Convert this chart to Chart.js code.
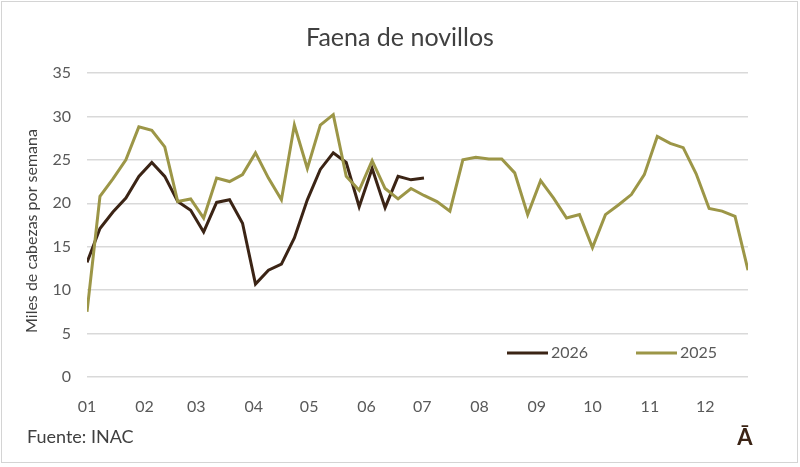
<!DOCTYPE html>
<html>
<head>
<meta charset="utf-8">
<script src="https://cdn.jsdelivr.net/npm/chart.js@4"></script>
<style>
  html, body { margin: 0; padding: 0; background: #fff; }
  #wrap { width: 800px; height: 467px; position: relative; }
</style>
</head>
<body>
<div id="wrap"><canvas id="myChart" width="800" height="467"></canvas></div>
<script>
// weekly slaughter (thousands of head), one value per week
const series2025 = [7.5, 20.8, 22.8, 25.0, 28.8, 28.4, 26.5, 20.2, 20.5, 18.3,
    22.9, 22.5, 23.3, 25.8, 22.9, 20.4, 29.0, 24.0, 29.0, 30.2,
    23.1, 21.5, 24.9, 21.7, 20.5, 21.7, 20.9, 20.2, 19.1, 25.0,
    25.3, 25.1, 25.1, 23.5, 18.7, 22.6, 20.6, 18.3, 18.7, 14.9,
    18.7, 19.8, 21.0, 23.3, 27.7, 26.9, 26.4, 23.4, 19.4, 19.1,
    18.5, 12.3];
const series2026 = [13.2, 17.1, 19.0, 20.6, 23.1, 24.7, 23.1, 20.2, 19.2, 16.7,
    20.1, 20.4, 17.7, 10.7, 12.3, 13.0, 16.0, 20.4, 23.9, 25.8,
    24.7, 19.6, 24.0, 19.5, 23.1, 22.7, 22.9];

// month labels and where each month starts, in weeks
const monthLabels = ['01', '02', '03', '04', '05', '06', '07', '08', '09', '10', '11', '12'];
const monthStartWeeks = [0, 4.43, 8.43, 12.86, 17.14, 21.57, 25.86, 30.29, 34.71, 39, 43.43, 47.71];
const yTicks = [0, 5, 10, 15, 20, 25, 30, 35];

const olive = '#9C9647';
const brown = '#3B2415';
const textGray = '#595959';
const fontFamily = 'Lato, "Open Sans", sans-serif';

const toPoints = (values) => values.map((v, i) => ({ x: i, y: v }));

// title, axis title, legend, source and logo
const extras = {
    id: 'extras',
    afterDraw(chart) {
        const { ctx } = chart;
        ctx.save();
        // frame
        ctx.strokeStyle = '#D4D4D4';
        ctx.lineWidth = 1;
        ctx.strokeRect(1.5, 1.5, 796, 461);

        ctx.fillStyle = '#404040';
        ctx.textAlign = 'center';
        ctx.textBaseline = 'middle';
        ctx.font = `25px ${fontFamily}`;
        ctx.fillText('Faena de novillos', 400, 38);

        ctx.save();
        ctx.translate(32, 231);
        ctx.rotate(-Math.PI / 2);
        ctx.font = `16px ${fontFamily}`;
        ctx.fillText('Miles de cabezas por semana', 0, 0);
        ctx.restore();

        // legend
        const items = [
            { label: '2026', color: brown, x: 507 },
            { label: '2025', color: olive, x: 636 },
        ];
        ctx.font = `16px ${fontFamily}`;
        ctx.textAlign = 'left';
        items.forEach((it) => {
            ctx.strokeStyle = it.color;
            ctx.lineWidth = 3;
            ctx.beginPath();
            ctx.moveTo(it.x, 353);
            ctx.lineTo(it.x + 41, 353);
            ctx.stroke();
            ctx.fillStyle = textGray;
            ctx.fillText(it.label, it.x + 44, 353);
        });

        ctx.fillStyle = '#404040';
        ctx.font = `18px ${fontFamily}`;
        ctx.fillText('Fuente: INAC', 27, 437);

        ctx.fillStyle = brown;
        ctx.font = `bold 22px ${fontFamily}`;
        ctx.textAlign = 'center';
        ctx.fillText('Ā', 745, 438);
        ctx.restore();
    }
};

const ctx = document.getElementById('myChart').getContext('2d');

const myChart = new Chart(ctx, {
    type: 'line',
    data: {
        datasets: [{
            label: '2025',
            data: toPoints(series2025),
            borderColor: olive,
            borderWidth: 3,
            pointRadius: 0,
            tension: 0,
        }, {
            label: '2026',
            data: toPoints(series2026),
            borderColor: brown,
            borderWidth: 3,
            pointRadius: 0,
            tension: 0,
        }]
    },
    options: {
        responsive: false,
        animation: false,
        layout: {
            padding: { top: 73, right: 52, bottom: 50, left: 0 }
        },
        plugins: {
            legend: { display: false },
            tooltip: { enabled: false },
        },
        scales: {
            x: {
                type: 'linear',
                min: 0,
                max: series2025.length - 1,
                afterFit: (scale) => { scale.height = 40; },
                afterBuildTicks: (scale) => {
                    scale.ticks = monthStartWeeks.map((w) => ({ value: w }));
                },
                ticks: {
                    autoSkip: false,
                    maxRotation: 0,
                    padding: 12,
                    color: textGray,
                    font: { family: fontFamily, size: 16 },
                    callback: (value, index) => monthLabels[index],
                },
                grid: { display: false },
                border: { display: false },
            },
            y: {
                min: 0,
                max: 35,
                afterFit: (scale) => { scale.width = 87; },
                afterBuildTicks: (scale) => {
                    scale.ticks = yTicks.map((v) => ({ value: v }));
                },
                ticks: {
                    padding: 16,
                    color: textGray,
                    font: { family: fontFamily, size: 16 },
                },
                grid: {
                    color: '#D9D9D9',
                    lineWidth: 1.5,
                    drawTicks: false,
                },
                border: { display: false },
            }
        }
    },
    plugins: [extras]
});
</script>
</body>
</html>
